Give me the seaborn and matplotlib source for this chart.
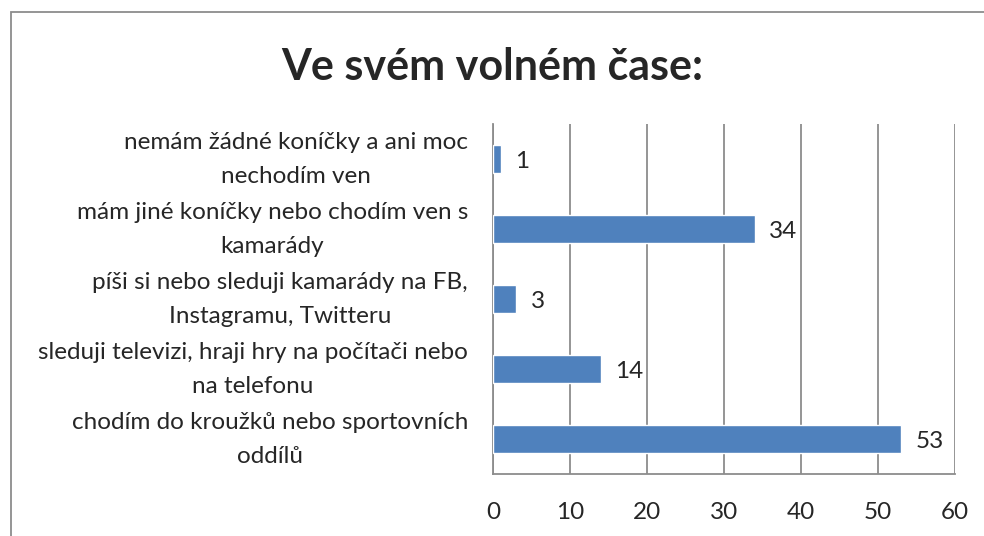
import pandas as pd
import seaborn as sns
import matplotlib.pyplot as plt
import matplotlib.transforms as mtrans
from matplotlib.patches import Rectangle

# data, top to bottom as in the chart
labels = [
    'nemám žádné koníčky a ani moc\nnechodím ven',
    'mám jiné koníčky nebo chodím ven s\nkamarády',
    'píši si nebo sleduji kamarády na FB,\nInstagramu, Twitteru',
    'sleduji televizi, hraji hry na počítači nebo\nna telefonu',
    'chodím do kroužků nebo sportovních\noddílů',
]
counts = [1, 34, 3, 14, 53]
xticks = [0, 10, 20, 30, 40, 50, 60]

df = pd.DataFrame({'odpoved': labels, 'pocet': counts})

sns.set_style('white')
plt.rcParams['font.family'] = ['Lato', 'DejaVu Sans']

fig = plt.figure(figsize=(9.84, 5.36), dpi=100)
ax = fig.add_axes([493/984, 1-474/536, 462/984, 350/536])

sns.barplot(data=df, x='pocet', y='odpoved', color='#4F81BD',
            width=0.39, saturation=1, ax=ax, zorder=3)

ax.set_xlim(0, 60)
ax.set_xticks(xticks)
ax.set_xlabel('')
ax.set_ylabel('')
ax.set_yticks(range(len(labels)))
ax.set_yticklabels(labels, multialignment='center', linespacing=1.75)
ax.grid(axis='x', color='#8c8c8c', lw=1.3, zorder=0)
ax.grid(axis='y', visible=False)
for s in ['top', 'right']:
    ax.spines[s].set_visible(False)
for s in ['left', 'bottom']:
    ax.spines[s].set_color('#8c8c8c')
    ax.spines[s].set_linewidth(1.3)
ax.tick_params(axis='both', length=0, labelsize=17.5)
ax.tick_params(axis='x', pad=20)
ax.tick_params(axis='y', pad=18)

# nudge the two-line labels up a little
shift = mtrans.ScaledTranslation(0, 8/100, fig.dpi_scale_trans)
for t in ax.get_yticklabels():
    t.set_transform(t.get_transform() + shift)

for i, v in enumerate(counts):
    ax.text(v + 1.9, i + 0.04, str(v), va='center', ha='left', fontsize=17.5)

fig.text(0.5, 1-67/536, 'Ve svém volném čase:', ha='center', va='center',
         fontsize=31, fontweight='bold')

# outer chart border
fig.patches.append(Rectangle((11/984, -0.5), 2, 1.5-12/536, transform=fig.transFigure,
                             fill=False, edgecolor='#8c8c8c', lw=1.3))

fig.savefig('out.png', dpi=100)
